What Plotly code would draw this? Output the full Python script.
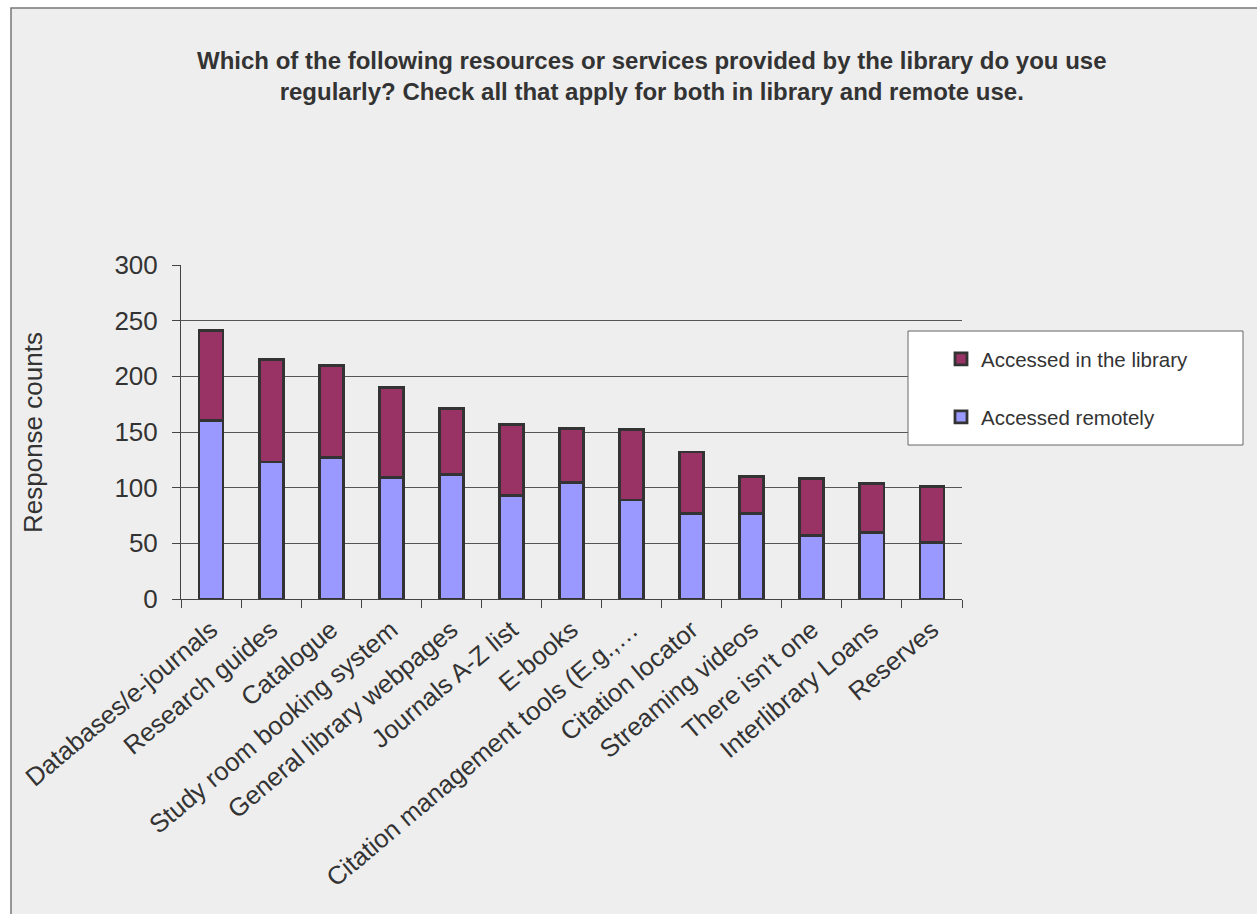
import plotly.graph_objects as go

categories = [
    "Databases/e-journals", "Research guides", "Catalogue", "Study room booking system",
    "General library webpages", "Journals A-Z list", "E-books",
    "Citation management tools (E.g.,\u2026", "Citation locator", "Streaming videos",
    "There isn't one", "Interlibrary Loans", "Reserves",
]
remote = [160, 123, 127, 109, 112, 93, 105, 89, 77, 77, 57, 60, 51]
library = [81, 92, 83, 81, 59, 64, 48, 63, 55, 33, 51, 44, 50]
y_ticks = [0, 50, 100, 150, 200, 250, 300]

title_text = ("Which of the following resources or services provided by the library do you use<br>"
              "regularly? Check all that apply for both in library and remote use.")

W, H = 1257, 914
L, R, T, B = 181, 295, 265, 315
pw, ph = W - L - R, H - T - B


def px(x):
    return (x - L) / pw


def py(y):
    return (H - B - y) / ph


FONT = "Liberation Sans, Arial, sans-serif"
TXT = "#333333"

fig = go.Figure()
fig.add_trace(go.Bar(
    x=categories, y=remote, name="Accessed remotely", width=0.4,
    marker=dict(color="#9999FF", line=dict(color="#333333", width=2.8)),
    legend="legend2",
))
fig.add_trace(go.Bar(
    x=categories, y=library, name="Accessed in the library", width=0.4,
    marker=dict(color="#993366", line=dict(color="#333333", width=2.8)),
    legend="legend",
))

fig.update_layout(
    width=W, height=H,
    margin=dict(l=L, r=R, t=T, b=B, autoexpand=False),
    barmode="stack",
    paper_bgcolor="white",
    plot_bgcolor="rgba(0,0,0,0)",
    font=dict(family=FONT, color=TXT, size=26),
    showlegend=True,
    legend=dict(x=px(941), y=py(359), xanchor="left", yanchor="middle",
                bgcolor="rgba(0,0,0,0)", font=dict(size=20.5, color=TXT, family=FONT)),
    legend2=dict(x=px(941), y=py(417), xanchor="left", yanchor="middle",
                 bgcolor="rgba(0,0,0,0)", font=dict(size=20.5, color=TXT, family=FONT)),
    xaxis=dict(
        range=[-0.5, len(categories) - 0.5],
        tickangle=-40, tickson="boundaries", ticks="outside", ticklen=8,
        tickcolor="#444444", showline=True, linecolor="#444444", linewidth=1,
        showgrid=False, tickfont=dict(size=25.5, color=TXT, family=FONT),
        ticklabelstandoff=5,
    ),
    yaxis=dict(
        range=[0, 300], tickvals=y_ticks, ticks="outside", ticklen=8,
        tickcolor="#444444", showline=True, linecolor="#444444", linewidth=1,
        showgrid=True, gridcolor="#555555", gridwidth=1, zeroline=False,
        tickfont=dict(size=26, color=TXT, family=FONT), ticklabelstandoff=9,
    ),
    shapes=[
        dict(type="rect", xref="paper", yref="paper",
             x0=px(11), x1=px(1275), y0=py(8), y1=py(930),
             fillcolor="#EEEEEE", line=dict(color="#777777", width=1.5), layer="below"),
        dict(type="rect", xref="paper", yref="paper",
             x0=px(908), x1=px(1243), y0=py(445), y1=py(331),
             fillcolor="white", line=dict(color="#666666", width=1), layer="above"),
    ],
    annotations=[
        dict(text="<b>" + title_text + "</b>", xref="paper", yref="paper", x=px(652), y=py(45),
             xanchor="center", yanchor="top", showarrow=False,
             font=dict(size=24, color=TXT, family=FONT)),
        dict(text="Response counts", xref="paper", yref="paper", x=px(33), y=py(433),
             xanchor="center", yanchor="middle", textangle=-90, showarrow=False,
             font=dict(size=26, color=TXT, family=FONT)),
    ],
)

fig.write_html("out.html")
